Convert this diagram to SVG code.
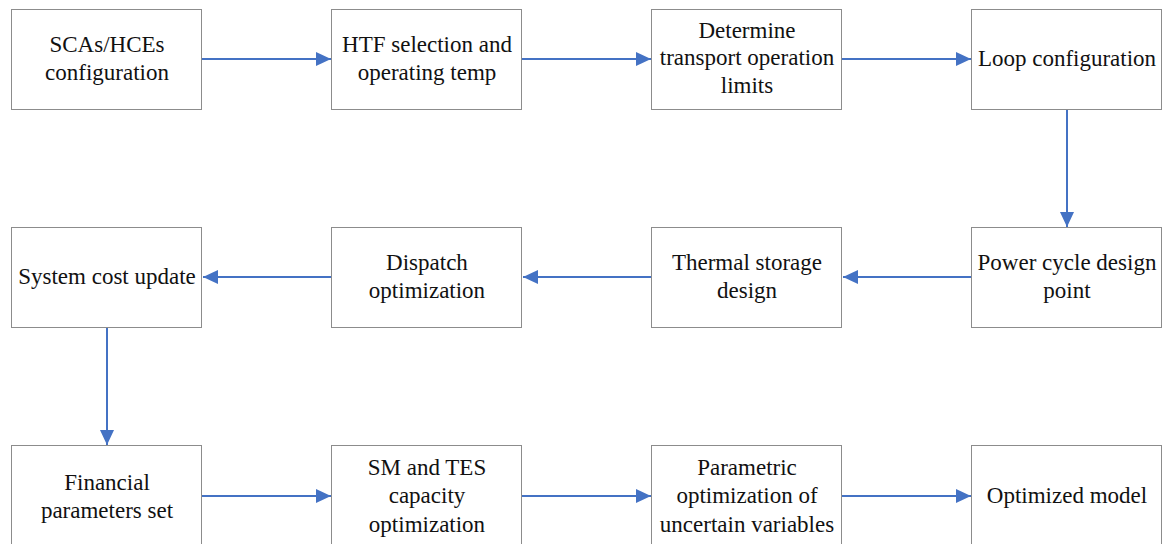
<svg xmlns="http://www.w3.org/2000/svg" width="1168" height="544" viewBox="0 0 1168 544">
<style>
.box{fill:#fff;stroke:#8c8c8c;stroke-width:1}
.t{font-family:"Liberation Serif","Times New Roman",serif;font-size:23px;fill:#111;text-anchor:middle}
.c{stroke:#4472c4;stroke-width:2;fill:none;marker-end:url(#ah)}
</style>
<defs>
<marker id="ah" markerUnits="userSpaceOnUse" markerWidth="16" markerHeight="14" refX="15" refY="7" orient="auto">
<path d="M0,0 L15,7 L0,14 Z" fill="#4472c4"/>
</marker>
</defs>
<rect width="1168" height="544" fill="#fff"/>
<g id="connectors">
<path class="c" d="M202,59 H331"/>
<path class="c" d="M522,59 H651"/>
<path class="c" d="M842,59 H971"/>
<path class="c" d="M1067,109 V227"/>
<path class="c" d="M972,277 H843"/>
<path class="c" d="M652,277 H523"/>
<path class="c" d="M332,277 H203"/>
<path class="c" d="M107,328 V445"/>
<path class="c" d="M202,496 H331"/>
<path class="c" d="M522,496 H651"/>
<path class="c" d="M842,496 H971"/>
</g>
<g id="n1"><rect class="box" x="11.5" y="9.5" width="190" height="100"/><text class="t" x="107" y="52">SCAs/HCEs</text><text class="t" x="107" y="80">configuration</text></g>
<g id="n2"><rect class="box" x="331.5" y="9.5" width="190" height="100"/><text class="t" x="427" y="52">HTF selection and</text><text class="t" x="427" y="80">operating temp</text></g>
<g id="n3"><rect class="box" x="651.5" y="9.5" width="190" height="100"/><text class="t" x="747" y="38">Determine</text><text class="t" x="747" y="65">transport operation</text><text class="t" x="747" y="93">limits</text></g>
<g id="n4"><rect class="box" x="971.5" y="9.5" width="190" height="100"/><text class="t" x="1067" y="66">Loop configuration</text></g>
<g id="n5"><rect class="box" x="971.5" y="227.5" width="190" height="100"/><text class="t" x="1067" y="270">Power cycle design</text><text class="t" x="1067" y="298">point</text></g>
<g id="n6"><rect class="box" x="651.5" y="227.5" width="190" height="100"/><text class="t" x="747" y="270">Thermal storage</text><text class="t" x="747" y="298">design</text></g>
<g id="n7"><rect class="box" x="331.5" y="227.5" width="190" height="100"/><text class="t" x="427" y="270">Dispatch</text><text class="t" x="427" y="298">optimization</text></g>
<g id="n8"><rect class="box" x="11.5" y="227.5" width="190" height="100"/><text class="t" x="107" y="284">System cost update</text></g>
<g id="n9"><rect class="box" x="11.5" y="445.5" width="190" height="110"/><text class="t" x="107" y="490">Financial</text><text class="t" x="107" y="518">parameters set</text></g>
<g id="n10"><rect class="box" x="331.5" y="445.5" width="190" height="110"/><text class="t" x="427" y="475">SM and TES</text><text class="t" x="427" y="503">capacity</text><text class="t" x="427" y="532">optimization</text></g>
<g id="n11"><rect class="box" x="651.5" y="445.5" width="190" height="110"/><text class="t" x="747" y="475">Parametric</text><text class="t" x="747" y="503">optimization of</text><text class="t" x="747" y="532">uncertain variables</text></g>
<g id="n12"><rect class="box" x="971.5" y="445.5" width="190" height="110"/><text class="t" x="1067" y="503">Optimized model</text></g>
</svg>
